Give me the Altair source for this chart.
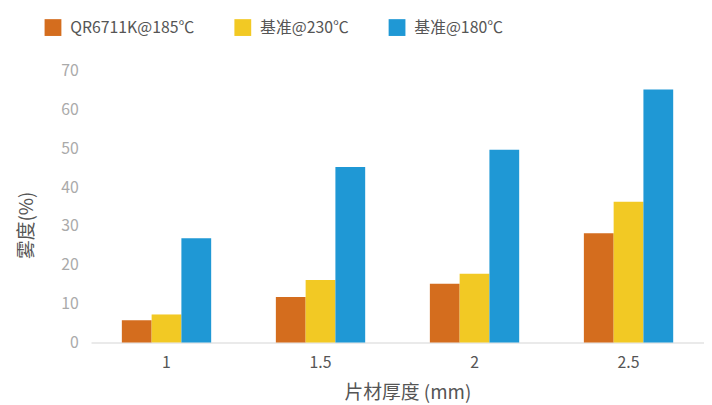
import altair as alt
import pandas as pd

thickness = ["1", "1.5", "2", "2.5"]
series = ["QR6711K@185℃", "基准@230℃", "基准@180℃"]
values_qr = [5.7, 11.7, 15.1, 28.1]
values_230 = [7.2, 16.1, 17.7, 36.2]
values_180 = [26.8, 45.2, 49.6, 65.1]
colors = ["#D46D1E", "#F2C924", "#1F98D5"]

rows = []
for i, t in enumerate(thickness):
    for s, vals in zip(series, [values_qr, values_230, values_180]):
        rows.append({"thickness": t, "series": s, "haze": vals[i]})
df = pd.DataFrame(rows)

FONT = "Noto Sans CJK SC"

chart = alt.Chart(df).mark_bar().encode(
    x=alt.X("thickness:N", sort=thickness, title="片材厚度 (mm)",
            scale=alt.Scale(paddingInner=0.42, paddingOuter=0.2),
            axis=alt.Axis(labelAngle=0, ticks=False, domainColor="#e3e3e3", domainWidth=1.5,
                          labelColor="#555555", labelFontSize=16, labelPadding=12,
                          titleColor="#555555", titleFontSize=19, titleFontWeight="normal",
                          titlePadding=14, titleX=320)),
    xOffset=alt.XOffset("series:N", sort=series),
    y=alt.Y("haze:Q", title="雾度(%)",
            scale=alt.Scale(domain=[0, 70]),
            axis=alt.Axis(values=[0, 10, 20, 30, 40, 50, 60, 70], grid=False, domain=False,
                          ticks=False, labelColor="#aaaaaa", labelFontSize=16, labelPadding=13,
                          titleColor="#555555", titleFontSize=19, titleFontWeight="normal",
                          titlePadding=24, titleY=156)),
    color=alt.Color("series:N", sort=series, scale=alt.Scale(domain=series, range=colors),
                    legend=alt.Legend(title=None, orient="none", direction="horizontal",
                                      legendX=-47, legendY=-52, symbolType="square",
                                      symbolSize=289, symbolStrokeWidth=0, labelFontSize=16,
                                      labelColor="#555555", labelOffset=9, columnPadding=40,
                                      symbolOpacity=1)),
).properties(
    width=620, height=275,
    autosize=alt.AutoSizeParams(type="none"),
    padding={"left": 84, "top": 61, "right": 0, "bottom": 61},
).configure(font=FONT).configure_view(stroke=None)

chart.save("out.html", embed_options={"renderer": "svg", "actions": False})
